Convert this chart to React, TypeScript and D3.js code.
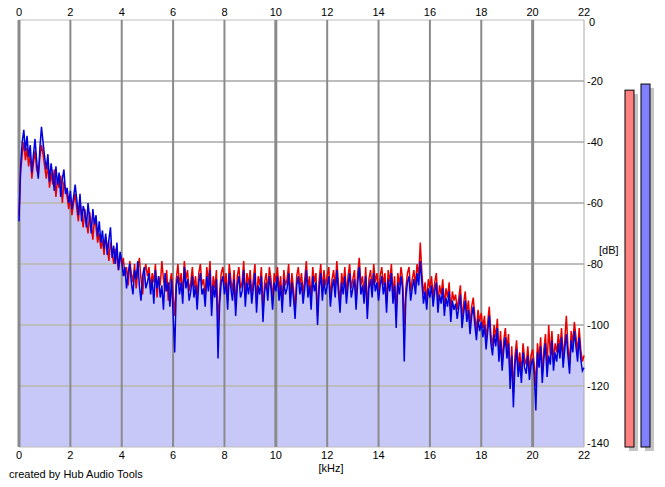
import * as d3 from 'd3'

// spectrum, one value every 0.0625 kHz from 0 to 22 kHz (dB)
const STEP = 0.0625

const leftDb = [
  -64, -50, -44, -40, -46, -42, -48, -44, -52, -47, -43, -49, -51, -45, -41, -44,
  -48, -52, -47, -55, -50, -54, -49, -58, -52, -55, -51, -60, -53, -56, -58, -62,
  -58, -64, -60, -57, -62, -66, -59, -64, -68, -62, -66, -70, -63, -67, -72, -65,
  -68, -73, -70, -75, -72, -77, -71, -74, -79, -73, -76, -80, -75, -78, -82, -77,
  -80, -78, -84, -81, -87, -79, -83, -86, -80, -88, -82, -78, -85, -90, -83, -80,
  -84, -81, -88, -83, -86, -80, -91, -84, -87, -79, -85, -89, -82, -92, -86, -83,
  -90, -97, -85, -80, -87, -83, -90, -79, -85, -82, -89, -86, -81, -88, -84, -91,
  -83, -80, -87, -85, -91, -81, -86, -79, -93, -84, -88, -82, -100, -89, -83, -81,
  -87, -83, -92, -80, -85, -89, -82, -94, -84, -81, -88, -86, -79, -91, -83, -87,
  -82, -90, -85, -80, -93, -84, -87, -81, -96, -86, -83, -89, -81, -85, -92, -83,
  -86, -81, -89, -84, -93, -82, -87, -85, -80, -91, -83, -88, -95, -84, -81, -87,
  -83, -90, -85, -79, -88, -84, -92, -81, -86, -83, -97, -85, -80, -89, -82, -87,
  -84, -81, -91, -85, -82, -88, -79, -86, -93, -83, -87, -81, -90, -84, -80, -88,
  -85, -82, -92, -83, -78, -87, -84, -90, -81, -95, -85, -82, -88, -80, -86, -83,
  -89, -84, -81, -87, -83, -93, -82, -86, -80, -90, -84, -96, -83, -87, -81, -85,
  -100, -88, -83, -81, -89, -85, -82, -87, -80, -84, -73, -83, -90, -86, -92, -85,
  -88, -84, -91, -86, -83, -93, -87, -90, -85, -94, -88, -91, -86, -96, -89, -92,
  -90, -95, -91, -87, -98, -93, -89, -96, -92, -100, -94, -91, -97, -102, -95, -99,
  -96, -101, -97, -105, -99, -94, -103, -107, -100, -104, -98, -109, -102, -112, -105, -101,
  -108, -103, -118, -107, -122, -110, -105, -114, -109, -116, -106, -111, -113, -107, -115, -110,
  -108, -113, -120, -106, -111, -104, -116, -108, -103, -114, -100, -110, -102, -112, -106, -109,
  -103, -108, -101, -111, -105, -97, -107, -113, -102, -106, -99, -104, -109, -101, -108, -112,
  -110,
]

const rightDb = [
  -66, -48, -40, -36, -43, -38, -45, -41, -50, -44, -39, -46, -52, -42, -35, -40,
  -45, -49, -44, -53, -47, -51, -56, -48, -54, -50, -58, -52, -49, -57, -55, -60,
  -56, -62, -58, -54, -59, -64, -57, -66, -61, -63, -68, -60, -65, -70, -62, -67,
  -64, -71, -66, -73, -69, -75, -70, -77, -72, -68, -78, -74, -80, -73, -82, -76,
  -79, -84, -81, -88, -83, -80, -86, -90, -82, -85, -79, -87, -92, -84, -81, -88,
  -86, -83, -90, -85, -93, -82, -88, -84, -91, -87, -95, -83, -89, -86, -94, -85,
  -96, -109, -87, -84, -90, -86, -93, -81, -88, -85, -92, -89, -84, -91, -87, -95,
  -86, -83, -90, -88, -94, -84, -89, -82, -97, -87, -91, -85, -111, -93, -86, -84,
  -90, -86, -95, -83, -88, -92, -85, -97, -87, -84, -91, -89, -82, -94, -86, -90,
  -85, -93, -88, -83, -96, -87, -90, -84, -99, -89, -86, -92, -84, -88, -95, -86,
  -89, -84, -92, -87, -96, -85, -90, -88, -83, -94, -86, -91, -98, -87, -84, -90,
  -86, -93, -88, -82, -91, -87, -95, -84, -89, -86, -100, -88, -83, -92, -85, -90,
  -87, -84, -94, -88, -85, -91, -82, -89, -96, -86, -90, -84, -93, -87, -83, -91,
  -88, -85, -95, -86, -81, -90, -87, -93, -84, -98, -88, -85, -91, -83, -89, -86,
  -92, -87, -84, -90, -86, -96, -85, -89, -83, -93, -87, -101, -86, -90, -84, -88,
  -112, -91, -86, -84, -92, -88, -85, -90, -83, -87, -79, -86, -93, -89, -95, -88,
  -91, -87, -94, -89, -86, -96, -90, -93, -88, -97, -91, -94, -89, -99, -92, -95,
  -93, -98, -94, -90, -101, -96, -92, -99, -95, -103, -97, -94, -100, -105, -98, -102,
  -99, -104, -100, -108, -102, -97, -106, -110, -103, -107, -101, -112, -105, -115, -108, -104,
  -111, -106, -121, -110, -127, -113, -108, -117, -112, -119, -109, -114, -116, -110, -118, -113,
  -111, -116, -128, -109, -114, -107, -119, -111, -106, -117, -110, -113, -105, -115, -109, -112,
  -106, -111, -104, -114, -108, -103, -110, -116, -105, -109, -102, -107, -112, -104, -111, -115,
  -114,
]

const freqTicks = [0, 2, 4, 6, 8, 10, 12, 14, 16, 18, 20, 22]
const dbTicks = [0, -20, -40, -60, -80, -100, -120, -140]
// peak meters on the right (L, R)
const meterDb = [-23, -21]
const meterColors = ['#ff8080', '#8080ff']

const W = 665
const H = 487
const plot = { left: 19, right: 584, top: 20, bottom: 447 }
const font = '"Liberation Sans", Arial, sans-serif'

export default function App() {
  const x = d3.scaleLinear().domain([0, 22]).range([plot.left, plot.right])
  const y = d3.scaleLinear().domain([0, -140]).range([plot.top, plot.bottom])

  const line = d3
    .line<number>()
    .x((_, i) => x(i * STEP))
    .y((d) => y(d))
  const area = d3
    .area<number>()
    .x((_, i) => x(i * STEP))
    .y0(y(-140))
    .y1((d) => y(d))

  // label nudges: 0 sits below the top edge, -140 above the bottom edge
  const dbLabelY = (t: number) => y(t) + (t === 0 ? 6 : t === -140 ? 0 : 4)

  return (
    <div style={{ position: 'absolute', left: 0, top: 0 }}>
      <svg width={W} height={H} style={{ display: 'block', background: '#fff' }}>
        {/* fill under spectrum */}
        <path d={area(rightDb) ?? ''} fill="#c8c8f8" />

        {/* horizontal grid */}
        {dbTicks.map((t) => (
          <line
            key={'h' + t}
            x1={plot.left}
            x2={plot.right}
            y1={y(t)}
            y2={y(t)}
            stroke="#bdbdbd"
            strokeWidth={t === 0 || t === -140 ? 1 : 2}
          />
        ))}

        {/* vertical grid */}
        {freqTicks.map((t) => (
          <line
            key={'v' + t}
            x1={x(t)}
            x2={x(t)}
            y1={plot.top}
            y2={plot.bottom}
            stroke={t === 22 ? '#a8a8a8' : '#8a8a8a'}
            strokeWidth={t % 10 === 0 ? 3 : t === 22 ? 1 : 2}
          />
        ))}

        {/* spectrum lines */}
        <path d={line(leftDb) ?? ''} fill="none" stroke="#e80000" strokeWidth={1.5} />
        <path d={line(rightDb) ?? ''} fill="none" stroke="#0000e0" strokeWidth={1.5} />

        {/* top & bottom frequency labels */}
        <g fontFamily={font} fontSize={11} fill="#000" textAnchor="middle">
          {freqTicks.map((t) => (
            <text key={'tt' + t} x={x(t)} y={16}>
              {t}
            </text>
          ))}
          {freqTicks.map((t) => (
            <text key={'bt' + t} x={x(t)} y={459}>
              {t}
            </text>
          ))}
          <text x={331} y={472}>
            [kHz]
          </text>
        </g>

        {/* dB labels */}
        <g fontFamily={font} fontSize={11} fill="#000">
          {dbTicks.map((t) => (
            <text key={'db' + t} x={t === 0 ? plot.right + 5 : plot.right + 3} y={dbLabelY(t)}>
              {t}
            </text>
          ))}
          <text x={599} y={254}>
            [dB]
          </text>
          <text x={9} y={478}>
            created by Hub Audio Tools
          </text>
        </g>

        {/* level meters */}
        {meterDb.map((d, i) => {
          const bx = 625 + i * 16
          return (
            <g key={'m' + i}>
              <rect x={bx + 4} y={y(d) + 4} width={9} height={plot.bottom - y(d)} fill="#c4c4c4" />
              <rect
                x={bx}
                y={y(d)}
                width={9}
                height={plot.bottom - y(d)}
                fill={meterColors[i]}
                stroke="#000"
                strokeWidth={1}
              />
            </g>
          )
        })}
      </svg>
    </div>
  )
}
